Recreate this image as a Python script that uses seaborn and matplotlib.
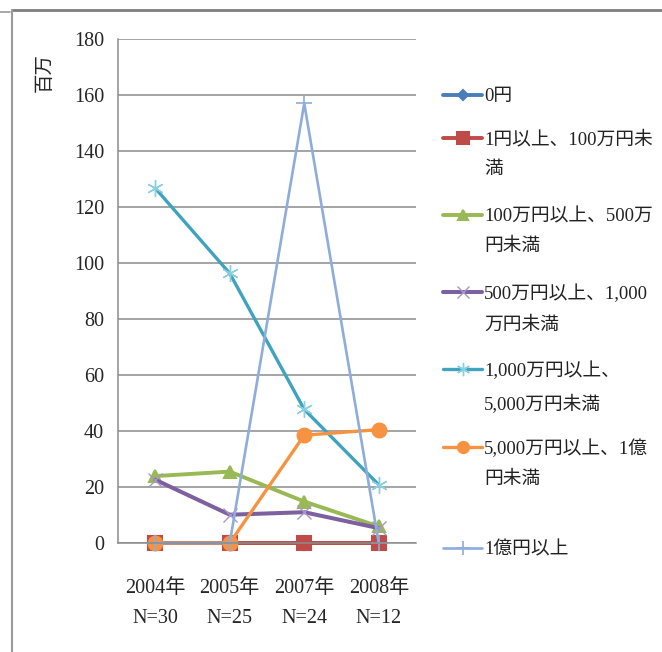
import numpy as np
import seaborn as sns
import matplotlib.pyplot as plt
from matplotlib.lines import Line2D

# Data (百万)
years = ['2004年\nN=30', '2005年\nN=25', '2007年\nN=24', '2008年\nN=12']
zero_yen = [0, 0, 0, 0]
under_1m = [0, 0, 0, 0]
m1_5 = [23.9, 25.5, 14.8, 5.9]
m5_10 = [22.6, 10.1, 11.0, 5.3]
m10_50 = [126.7, 96.3, 47.7, 20.8]
m50_100 = [0, 0, 38.5, 40.5]
over_100m = [0, 0, 157.0, 0]

labels = ['0円', '1円以上、100万円未\n満', '100万円以上、500万\n円未満',
          '500万円以上、1,000\n万円未満', '1,000万円以上、\n5,000万円未満',
          '5,000万円以上、1億\n円未満', '1億円以上']
series = [zero_yen, under_1m, m1_5, m5_10, m10_50, m50_100, over_100m]
colors = ['#4A7EBB', '#BE4B48', '#98B954', '#7D60A0', '#3FA3BE', '#F69240', '#8EACDC']
edge_colors = ['#4A7EBB', '#BE4B48', '#98B954', '#A896C8', '#8ACFE0', '#F69240', '#8EACDC']
markers = ['D', 's', '^', 'x', (6, 2, 0), 'o', '+']
msizes = [7, 10, 9, 10, 12, 10, 12]
mew = [1.5, 1.5, 1.5, 1.0, 1.0, 1.5, 1.2]
lwidths = [2.8, 2.8, 2.8, 2.9, 2.4, 2.4, 1.9]

sns.set_style('white')
fonts = ['Liberation Serif', 'Noto Sans CJK JP', 'DejaVu Sans']
plt.rcParams['font.family'] = fonts

fig = plt.figure(figsize=(6.62, 6.52), dpi=100)
ax = fig.add_axes([118 / 662, 1 - 543 / 652, (416 - 118) / 662, (543 - 39) / 652])

for vals, c, ec, m, ms, ew, lw in zip(series, colors, edge_colors, markers, msizes, mew, lwidths):
    sns.lineplot(x=years, y=vals, ax=ax, color=c, marker=m, markersize=ms,
                 linewidth=lw, markeredgecolor=ec, markeredgewidth=ew,
                 sort=False, errorbar=None, clip_on=False)

ax.set_xlim(-0.5, 3.5)
ax.set_ylim(0, 180)
ax.set_yticks(range(0, 181, 20))
ax.yaxis.grid(True, color='#8C8C8C', linewidth=1.1)
ax.set_axisbelow(True)
for s in ['top', 'right']:
    ax.spines[s].set_visible(False)
for s in ['left', 'bottom']:
    ax.spines[s].set_color('#8C8C8C')
    ax.spines[s].set_linewidth(1.1)
ax.set_xticks(np.arange(4))
ax.set_xticklabels(years, fontsize=14.5, linespacing=1.8)
ax.set_xticks(np.arange(-0.5, 4, 1), minor=True)
ax.tick_params(axis='x', which='major', length=0, pad=26)
ax.tick_params(axis='x', which='minor', length=5, color='#8C8C8C', direction='out')
ax.tick_params(axis='y', length=5, color='#8C8C8C', direction='out', labelsize=14.5, pad=5)
ax.set_xlabel('')
ax.set_ylabel('')

fig.text(45 / 662, 1 - 73 / 652, '百万', rotation=90, ha='center', va='center', fontsize=14)

# legend
leg_y = [95, 138, 215, 292, 369, 447, 548]
for lab, c, ec, m, ms, ew, lw, y in zip(labels, colors, edge_colors, markers, msizes, mew, lwidths, leg_y):
    yf = 1 - y / 652
    fig.add_artist(Line2D([443 / 662, 482 / 662], [yf, yf], color=c, linewidth=lw,
                          transform=fig.transFigure))
    fig.add_artist(Line2D([462.5 / 662], [yf], color=c, marker=m, markersize=ms * 0.8,
                          markeredgecolor=ec, markeredgewidth=ew,
                          transform=fig.transFigure))
    fig.text(484 / 662, yf + 7 / 652, lab, ha='left', va='top', fontsize=13.5,
             linespacing=1.95, color='#222222')

# frame
fig.add_artist(Line2D([12 / 662, 1], [1 - 10 / 652, 1 - 10 / 652], color='#7F7F7F',
                      linewidth=2, transform=fig.transFigure))
fig.add_artist(Line2D([12 / 662, 12 / 662], [0, 1 - 10 / 652], color='#9A9A9A',
                      linewidth=1.5, transform=fig.transFigure))
fig.add_artist(Line2D([0, 10 / 662], [1 - 12 / 652, 1 - 12 / 652], color='#9A9A9A',
                      linewidth=1.2, transform=fig.transFigure))

fig.savefig('out.png', dpi=100)
